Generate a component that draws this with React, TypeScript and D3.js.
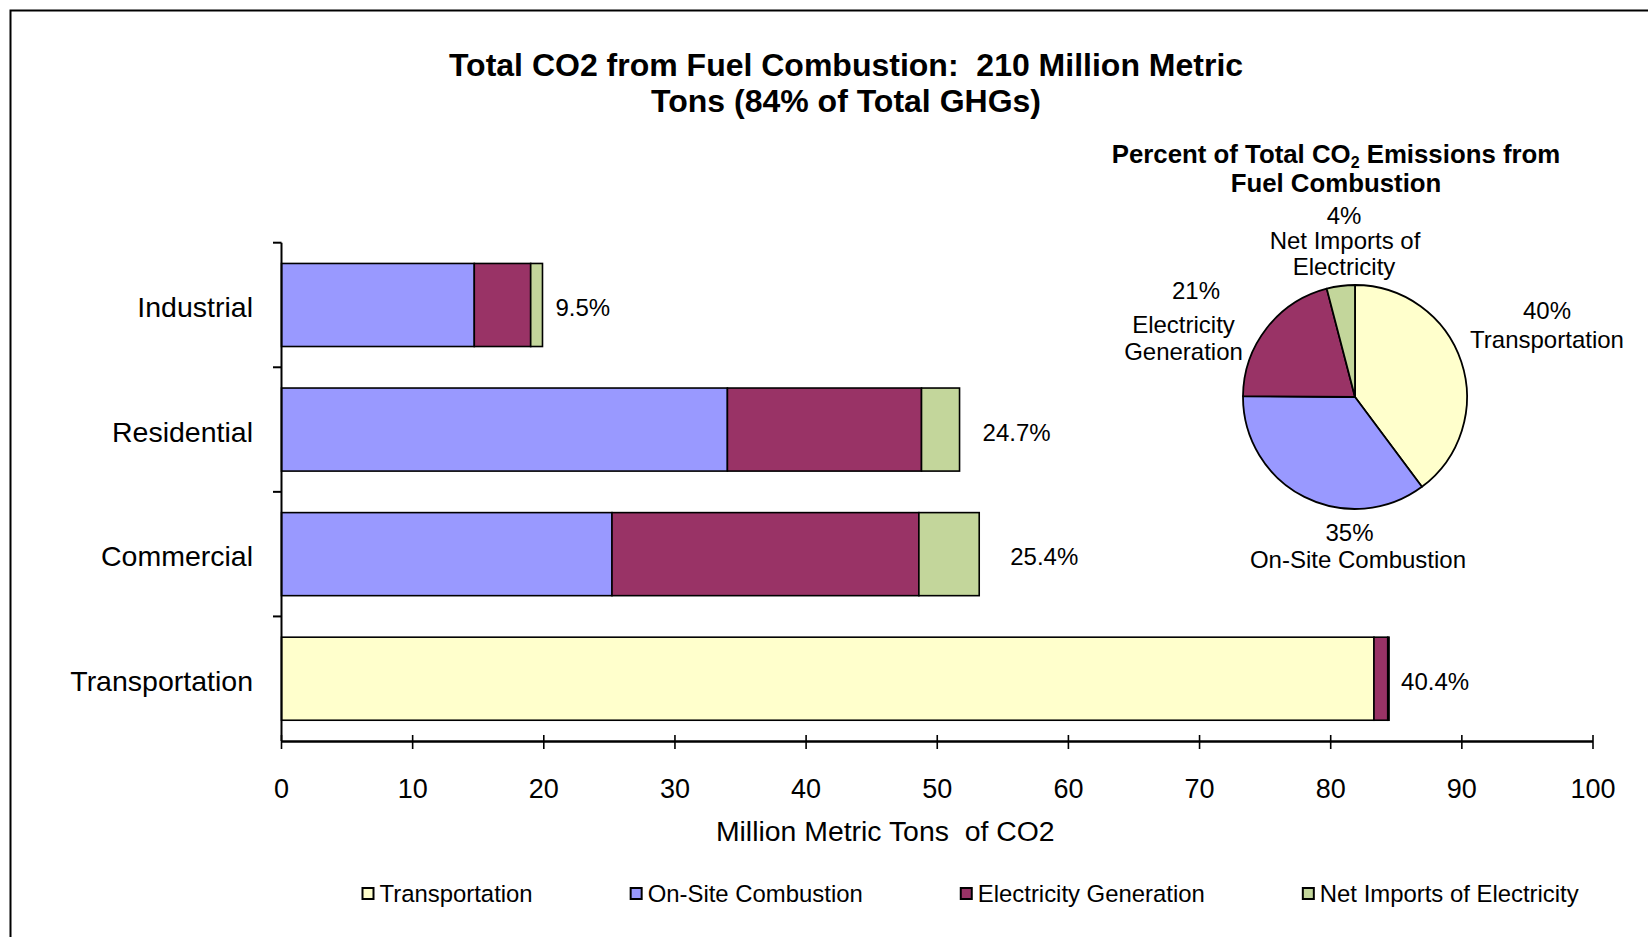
import * as d3 from "d3";
import { useEffect, useRef } from "react";

// --- data ---
const categories = ["Industrial", "Residential", "Commercial", "Transportation"];
const seriesNames = [
  "Transportation",
  "On-Site Combustion",
  "Electricity Generation",
  "Net Imports of Electricity",
];
const transportation = [0, 0, 0, 83.3];
const onSite = [14.7, 34.0, 25.2, 0];
const elecGen = [4.3, 14.8, 23.4, 1.05];
const netImports = [0.9, 2.9, 4.6, 0.1];
const shareLabels = ["9.5%", "24.7%", "25.4%", "40.4%"];
const xTicks = [0, 10, 20, 30, 40, 50, 60, 70, 80, 90, 100];
const pieNameLines = [
  ["Transportation"],
  ["On-Site Combustion"],
  ["Electricity", "Generation"],
  ["Net Imports of", "Electricity"],
];

const colors = ["#FFFFCC", "#9999FF", "#993366", "#C3D69B"];
const FONT = "'Liberation Sans', Arial, sans-serif";

// label nudges (px) – Excel placed these by hand
const labelGap = [13, 23, 31, 12];
const pieLabelOffsets = [
  [[192, -78], [192, -49]],
  [[-5.5, 144], [3, 171]],
  [[-159, -98], [-171.5, -64], [-171.5, -37]],
  [[-11, -173], [-10, -148], [-11, -122]],
];

export default function App() {
  const ref = useRef<SVGSVGElement | null>(null);

  useEffect(() => {
    const svg = d3.select(ref.current);
    svg.selectAll("*").remove();

    // outer frame (only top and left visible)
    svg
      .append("path")
      .attr("d", "M10.5,937 V10.5 H1648")
      .attr("fill", "none")
      .attr("stroke", "#000")
      .attr("stroke-width", 2);

    // titles
    const title = svg
      .append("text")
      .attr("text-anchor", "middle")
      .attr("font-family", FONT)
      .attr("font-weight", "bold")
      .attr("font-size", 32)
      .style("white-space", "pre");
    title.append("tspan").attr("x", 846).attr("y", 76).text("Total CO2 from Fuel Combustion:  210 Million Metric");
    title.append("tspan").attr("x", 846).attr("y", 112).text("Tons (84% of Total GHGs)");

    // --- stacked bar chart ---
    const table = categories.map((c, i) => ({
      category: c,
      [seriesNames[0]]: transportation[i],
      [seriesNames[1]]: onSite[i],
      [seriesNames[2]]: elecGen[i],
      [seriesNames[3]]: netImports[i],
    }));
    const stacked = d3.stack<any>().keys(seriesNames)(table);

    const x = d3.scaleLinear().domain([0, 100]).range([281.5, 1593]);
    const y = d3
      .scaleBand()
      .domain(categories)
      .range([242.7, 741])
      .paddingInner(1 / 3)
      .paddingOuter(1 / 6);

    const bars = svg.append("g");
    stacked.forEach((layer, si) => {
      bars
        .append("g")
        .attr("fill", colors[si])
        .attr("stroke", "#000")
        .attr("stroke-width", 1.6)
        .selectAll("rect")
        .data(layer.filter((d) => d[1] - d[0] > 0))
        .join("rect")
        .attr("x", (d) => x(d[0]))
        .attr("y", (d) => y(d.data.category)!)
        .attr("width", (d) => x(d[1]) - x(d[0]))
        .attr("height", y.bandwidth());
    });

    // y axis: line + outward ticks at band boundaries
    const yAxis = svg.append("g").attr("stroke", "#000").attr("stroke-width", 2);
    yAxis.append("line").attr("x1", 281.5).attr("x2", 281.5).attr("y1", 242.7).attr("y2", 741);
    categories.forEach((c) => {
      const yy = y(c)! - (y.step() * y.paddingInner()) / 2;
      yAxis.append("line").attr("x1", 273).attr("x2", 281.5).attr("y1", yy).attr("y2", yy);
    });

    // x axis: line + crossing ticks
    const xAxis = svg.append("g");
    xAxis
      .append("line")
      .attr("x1", x(0))
      .attr("x2", x(100))
      .attr("y1", 741.5)
      .attr("y2", 741.5)
      .attr("stroke", "#000")
      .attr("stroke-width", 2.5);
    xAxis
      .selectAll("line.tick")
      .data(xTicks)
      .join("line")
      .attr("class", "tick")
      .attr("x1", (d) => x(d))
      .attr("x2", (d) => x(d))
      .attr("y1", 735)
      .attr("y2", 749)
      .attr("stroke", "#000")
      .attr("stroke-width", 1.6);
    xAxis
      .selectAll("text")
      .data(xTicks)
      .join("text")
      .attr("x", (d) => x(d))
      .attr("y", 798)
      .attr("text-anchor", "middle")
      .attr("font-family", FONT)
      .attr("font-size", 27)
      .text((d) => d);

    svg
      .append("text")
      .attr("x", (x(0) + x(100)) / 2 - 52)
      .attr("y", 841)
      .attr("text-anchor", "middle")
      .attr("font-family", FONT)
      .attr("font-size", 28.4)
      .style("white-space", "pre")
      .text("Million Metric Tons  of CO2");

    // category labels
    svg
      .append("g")
      .selectAll("text")
      .data(categories)
      .join("text")
      .attr("x", 253)
      .attr("y", (d) => y(d)! + y.bandwidth() / 2 + 12)
      .attr("text-anchor", "end")
      .attr("font-family", FONT)
      .attr("font-size", 28.5)
      .text((d) => d);

    // share-of-total labels at the end of each bar
    const totals = categories.map((_, i) => transportation[i] + onSite[i] + elecGen[i] + netImports[i]);
    svg
      .append("g")
      .selectAll("text")
      .data(categories)
      .join("text")
      .attr("x", (_, i) => x(totals[i]) + labelGap[i])
      .attr("y", (d) => y(d)! + y.bandwidth() / 2 + 11)
      .attr("font-family", FONT)
      .attr("font-size", 24)
      .text((_, i) => shareLabels[i]);

    // --- pie inset ---
    const pieTitle = svg
      .append("text")
      .attr("text-anchor", "middle")
      .attr("font-family", FONT)
      .attr("font-weight", "bold")
      .attr("font-size", 25.8);
    const l1 = pieTitle.append("tspan").attr("x", 1336).attr("y", 163);
    l1.append("tspan").text("Percent of Total CO");
    l1.append("tspan").attr("font-size", 16).attr("dy", 5).text("2");
    l1.append("tspan").attr("dy", -5).text(" Emissions from");
    pieTitle.append("tspan").attr("x", 1336).attr("y", 192).text("Fuel Combustion");

    const pieTotals = [
      d3.sum(transportation),
      d3.sum(onSite),
      d3.sum(elecGen),
      d3.sum(netImports),
    ];
    const grand = d3.sum(pieTotals);
    const cx = 1355;
    const cy = 397;
    const r = 112;
    const arcs = d3.pie<number>().sort(null).value((d) => d)(pieTotals);
    const arcGen = d3.arc<d3.PieArcDatum<number>>().innerRadius(0).outerRadius(r);
    const pieG = svg.append("g").attr("transform", `translate(${cx},${cy})`);
    pieG
      .selectAll("path")
      .data(arcs)
      .join("path")
      .attr("d", arcGen)
      .attr("fill", (_, i) => colors[i])
      .attr("stroke", "#000")
      .attr("stroke-width", 1.8)
      .attr("stroke-linejoin", "round");

    arcs.forEach((a, i) => {
      const lines = [`${Math.round((a.value / grand) * 100)}%`, ...pieNameLines[i]];
      lines.forEach((t, li) => {
        const [dx, dy] = pieLabelOffsets[i][li];
        svg
          .append("text")
          .attr("x", cx + dx)
          .attr("y", cy + dy)
          .attr("text-anchor", "middle")
          .attr("font-family", FONT)
          .attr("font-size", 24)
          .text(t);
      });
    });

    // --- legend, laid out by measured text width ---
    const legend = svg.append("g");
    let lx = 362.5;
    seriesNames.forEach((name, i) => {
      legend
        .append("rect")
        .attr("x", lx)
        .attr("y", 888)
        .attr("width", 11)
        .attr("height", 11)
        .attr("fill", colors[i])
        .attr("stroke", "#000")
        .attr("stroke-width", 2);
      const t = legend
        .append("text")
        .attr("x", lx + 17)
        .attr("y", 902)
        .attr("font-family", FONT)
        .attr("font-size", 23.9)
        .text(name);
      const w = (t.node() as SVGTextElement).getComputedTextLength();
      lx += 17 + w + 98;
    });
  }, []);

  return (
    <div style={{ position: "absolute", left: 0, top: 0, width: 1648, height: 937, overflow: "hidden", background: "#fff" }}>
      <svg ref={ref} width={1648} height={937} style={{ display: "block" }} />
    </div>
  );
}
